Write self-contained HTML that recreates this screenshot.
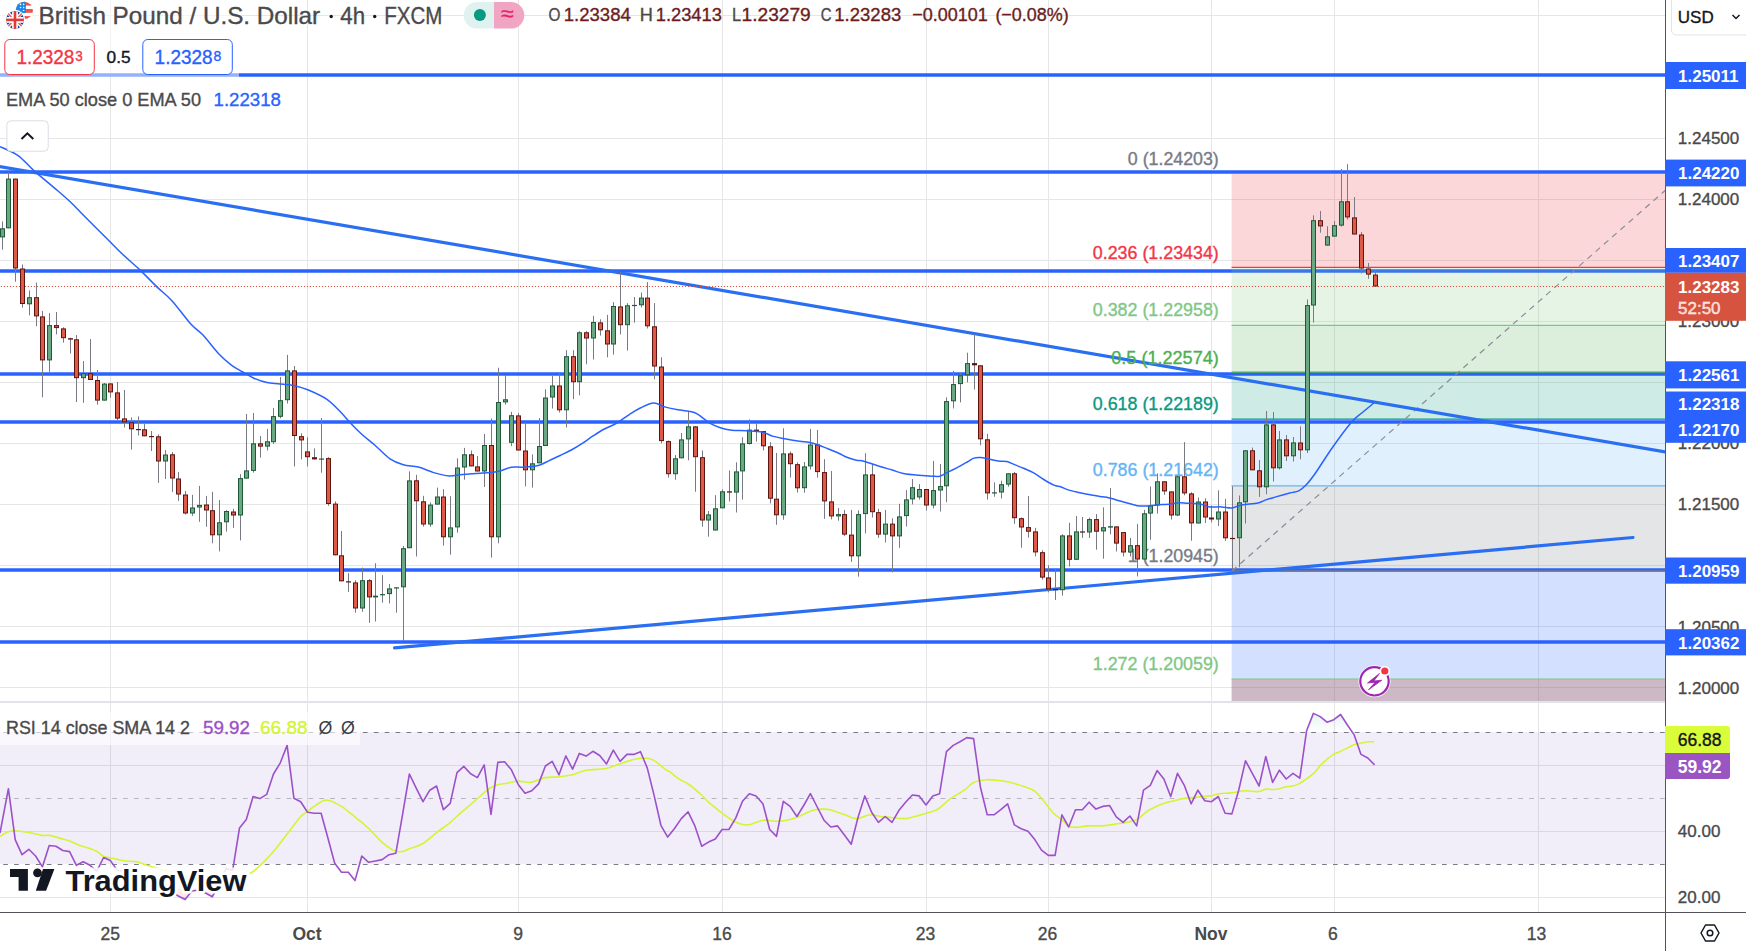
<!DOCTYPE html><html><head><meta charset="utf-8"><title>GBPUSD chart</title><style>html,body{margin:0;padding:0;background:#fff;overflow:hidden;width:1746px;height:951px}svg{display:block;font-family:"Liberation Sans",sans-serif}</style></head><body>
<svg width="1746" height="951" viewBox="0 0 1746 951">
<rect width="1746" height="951" fill="#ffffff"/>
<defs><clipPath id="mp"><rect x="0" y="0" width="1665" height="701"/></clipPath><clipPath id="rp"><rect x="0" y="703" width="1665" height="209"/></clipPath><clipPath id="below30"><rect x="0" y="864.5" width="1665" height="48"/></clipPath><clipPath id="above70"><rect x="0" y="703" width="1665" height="29"/></clipPath><linearGradient id="pk" gradientUnits="userSpaceOnUse" x1="0" y1="864" x2="0" y2="902"><stop offset="0" stop-color="#f23645" stop-opacity="0.0"/><stop offset="1" stop-color="#f23645" stop-opacity="0.14"/></linearGradient><linearGradient id="gk" gradientUnits="userSpaceOnUse" x1="0" y1="712" x2="0" y2="732"><stop offset="0" stop-color="#089981" stop-opacity="0.12"/><stop offset="1" stop-color="#089981" stop-opacity="0.0"/></linearGradient></defs>
<line x1="110.5" y1="0" x2="110.5" y2="912" stroke="#e6e6e6" stroke-width="1"/>
<line x1="307.5" y1="0" x2="307.5" y2="912" stroke="#e6e6e6" stroke-width="1"/>
<line x1="518.5" y1="0" x2="518.5" y2="912" stroke="#e6e6e6" stroke-width="1"/>
<line x1="722.5" y1="0" x2="722.5" y2="912" stroke="#e6e6e6" stroke-width="1"/>
<line x1="926.5" y1="0" x2="926.5" y2="912" stroke="#e6e6e6" stroke-width="1"/>
<line x1="1048.5" y1="0" x2="1048.5" y2="912" stroke="#e6e6e6" stroke-width="1"/>
<line x1="1211.5" y1="0" x2="1211.5" y2="912" stroke="#e6e6e6" stroke-width="1"/>
<line x1="1334.5" y1="0" x2="1334.5" y2="912" stroke="#e6e6e6" stroke-width="1"/>
<line x1="1538.5" y1="0" x2="1538.5" y2="912" stroke="#e6e6e6" stroke-width="1"/>
<line x1="0" y1="15.5" x2="1665" y2="15.5" stroke="#e6e6e6" stroke-width="1"/>
<line x1="0" y1="138.5" x2="1665" y2="138.5" stroke="#e6e6e6" stroke-width="1"/>
<line x1="0" y1="199.5" x2="1665" y2="199.5" stroke="#e6e6e6" stroke-width="1"/>
<line x1="0" y1="260.5" x2="1665" y2="260.5" stroke="#e6e6e6" stroke-width="1"/>
<line x1="0" y1="321.5" x2="1665" y2="321.5" stroke="#e6e6e6" stroke-width="1"/>
<line x1="0" y1="382.5" x2="1665" y2="382.5" stroke="#e6e6e6" stroke-width="1"/>
<line x1="0" y1="443.5" x2="1665" y2="443.5" stroke="#e6e6e6" stroke-width="1"/>
<line x1="0" y1="504.5" x2="1665" y2="504.5" stroke="#e6e6e6" stroke-width="1"/>
<line x1="0" y1="565.5" x2="1665" y2="565.5" stroke="#e6e6e6" stroke-width="1"/>
<line x1="0" y1="626.5" x2="1665" y2="626.5" stroke="#e6e6e6" stroke-width="1"/>
<line x1="0" y1="687.5" x2="1665" y2="687.5" stroke="#e6e6e6" stroke-width="1"/>
<line x1="0" y1="765.5" x2="1665" y2="765.5" stroke="#e6e6e6" stroke-width="1"/>
<line x1="0" y1="831.5" x2="1665" y2="831.5" stroke="#e6e6e6" stroke-width="1"/>
<line x1="0" y1="897.5" x2="1665" y2="897.5" stroke="#e6e6e6" stroke-width="1"/>
<g clip-path="url(#mp)">
<line x1="0" y1="271" x2="1665" y2="271" stroke="#2962ff" stroke-width="3.4"/>
<rect x="1231.6" y="173.50" width="433.4" height="93.79" fill="#f23645" fill-opacity="0.2"/>
<rect x="1231.6" y="267.29" width="433.4" height="58.02" fill="#81c784" fill-opacity="0.2"/>
<rect x="1231.6" y="325.31" width="433.4" height="46.89" fill="#4caf50" fill-opacity="0.2"/>
<rect x="1231.6" y="372.20" width="433.4" height="46.89" fill="#089981" fill-opacity="0.2"/>
<rect x="1231.6" y="419.09" width="433.4" height="66.76" fill="#64b5f6" fill-opacity="0.2"/>
<rect x="1231.6" y="485.86" width="433.4" height="85.04" fill="#787b86" fill-opacity="0.2"/>
<rect x="1231.6" y="570.90" width="433.4" height="108.09" fill="#2962ff" fill-opacity="0.2"/>
<rect x="1231.6" y="678.99" width="433.4" height="40" fill="#825070" fill-opacity="0.4"/>
<line x1="0" y1="75" x2="1665" y2="75" stroke="#2962ff" stroke-width="3.4"/>
<line x1="0" y1="172" x2="1665" y2="172" stroke="#2962ff" stroke-width="3.4"/>
<line x1="0" y1="374" x2="1665" y2="374" stroke="#2962ff" stroke-width="3.4"/>
<line x1="0" y1="422" x2="1665" y2="422" stroke="#2962ff" stroke-width="3.4"/>
<line x1="0" y1="570" x2="1665" y2="570" stroke="#2962ff" stroke-width="3.4"/>
<line x1="0" y1="642" x2="1665" y2="642" stroke="#2962ff" stroke-width="3.4"/>
<line x1="1231.6" y1="267.29" x2="1665" y2="267.29" stroke="#f23645" stroke-width="1.2"/>
<line x1="1231.6" y1="325.31" x2="1665" y2="325.31" stroke="#81c784" stroke-width="1.2"/>
<line x1="1231.6" y1="372.20" x2="1665" y2="372.20" stroke="#4caf50" stroke-width="1.2"/>
<line x1="1231.6" y1="419.09" x2="1665" y2="419.09" stroke="#089981" stroke-width="1.2"/>
<line x1="1231.6" y1="485.86" x2="1665" y2="485.86" stroke="#64b5f6" stroke-width="1.2"/>
<line x1="1231.6" y1="570.90" x2="1665" y2="570.90" stroke="#787b86" stroke-width="1.2"/>
<line x1="1231.6" y1="678.99" x2="1665" y2="678.99" stroke="#81c784" stroke-width="1.2"/>
<line x1="1232" y1="571" x2="1668" y2="188" stroke="#8a8d96" stroke-width="1.2" stroke-dasharray="6,5"/>
<line x1="-2" y1="166.3" x2="1666" y2="452" stroke="#2a6ef2" stroke-width="3.2"/>
<line x1="394.5" y1="647.9" x2="1633" y2="537.5" stroke="#2a6ef2" stroke-width="3.2" stroke-linecap="round"/>
<line x1="0" y1="286.5" x2="1665" y2="286.5" stroke="#d9503f" stroke-width="1.1" stroke-dasharray="1.1,1.9" stroke-dashoffset="-0.9"/>
<text x="1127.8" y="165.2" font-size="17.8" fill="#787b86" textLength="91" lengthAdjust="spacingAndGlyphs" stroke="#787b86" stroke-width="0.35">0 (1.24203)</text>
<text x="1092.8" y="259.4" font-size="17.8" fill="#f23645" textLength="126" lengthAdjust="spacingAndGlyphs" stroke="#f23645" stroke-width="0.35">0.236 (1.23434)</text>
<text x="1092.8" y="316.2" font-size="17.8" fill="#81c784" textLength="126" lengthAdjust="spacingAndGlyphs" stroke="#81c784" stroke-width="0.35">0.382 (1.22958)</text>
<text x="1111.3" y="363.6" font-size="17.8" fill="#4caf50" textLength="107.5" lengthAdjust="spacingAndGlyphs" stroke="#4caf50" stroke-width="0.35">0.5 (1.22574)</text>
<text x="1092.8" y="409.9" font-size="17.8" fill="#089981" textLength="126" lengthAdjust="spacingAndGlyphs" stroke="#089981" stroke-width="0.35">0.618 (1.22189)</text>
<text x="1092.8" y="476.0" font-size="17.8" fill="#64b5f6" textLength="126" lengthAdjust="spacingAndGlyphs" stroke="#64b5f6" stroke-width="0.35">0.786 (1.21642)</text>
<text x="1127.8" y="562.0" font-size="17.8" fill="#787b86" textLength="91" lengthAdjust="spacingAndGlyphs" stroke="#787b86" stroke-width="0.35">1 (1.20945)</text>
<text x="1092.8" y="670.0" font-size="17.8" fill="#81c784" textLength="126" lengthAdjust="spacingAndGlyphs" stroke="#81c784" stroke-width="0.35">1.272 (1.20059)</text>
<rect x="2" y="221.5" width="1" height="28.2" fill="#787b86"/>
<rect x="0.5" y="228.8" width="4" height="8.1" fill="#6aa884" stroke="#1e5a37" stroke-width="1"/>
<rect x="8" y="172.3" width="1" height="56.0" fill="#787b86"/>
<rect x="6.5" y="179.1" width="4" height="48.7" fill="#6aa884" stroke="#1e5a37" stroke-width="1"/>
<rect x="15" y="178.6" width="1" height="103.1" fill="#787b86"/>
<rect x="13.5" y="179.1" width="4" height="88.9" fill="#de5a48" stroke="#5e1510" stroke-width="1"/>
<rect x="22" y="264.4" width="1" height="43.2" fill="#787b86"/>
<rect x="20.5" y="269.0" width="4" height="34.5" fill="#de5a48" stroke="#5e1510" stroke-width="1"/>
<rect x="29" y="290.4" width="1" height="24.9" fill="#787b86"/>
<rect x="27.5" y="297.7" width="4" height="6.1" fill="#6aa884" stroke="#1e5a37" stroke-width="1"/>
<rect x="36" y="282.5" width="1" height="43.7" fill="#787b86"/>
<rect x="34.5" y="297.7" width="4" height="18.2" fill="#de5a48" stroke="#5e1510" stroke-width="1"/>
<rect x="42" y="310.9" width="1" height="86.4" fill="#787b86"/>
<rect x="40.5" y="316.9" width="4" height="43.0" fill="#de5a48" stroke="#5e1510" stroke-width="1"/>
<rect x="49" y="313.1" width="1" height="58.8" fill="#787b86"/>
<rect x="47.5" y="325.6" width="4" height="34.3" fill="#6aa884" stroke="#1e5a37" stroke-width="1"/>
<rect x="56" y="312.0" width="1" height="22.4" fill="#787b86"/>
<rect x="54.5" y="325.6" width="4" height="2.0" fill="#de5a48" stroke="#5e1510" stroke-width="1"/>
<rect x="63" y="327.3" width="1" height="15.3" fill="#787b86"/>
<rect x="61.5" y="328.9" width="4" height="8.8" fill="#de5a48" stroke="#5e1510" stroke-width="1"/>
<rect x="70" y="337.7" width="1" height="15.9" fill="#787b86"/>
<rect x="68" y="338.2" width="5" height="1.4" fill="#5e1510"/>
<rect x="76" y="335.0" width="1" height="67.0" fill="#787b86"/>
<rect x="74.5" y="339.8" width="4" height="37.9" fill="#de5a48" stroke="#5e1510" stroke-width="1"/>
<rect x="83" y="361.0" width="1" height="41.8" fill="#787b86"/>
<rect x="81.5" y="373.7" width="4" height="4.0" fill="#6aa884" stroke="#1e5a37" stroke-width="1"/>
<rect x="90" y="339.0" width="1" height="41.0" fill="#787b86"/>
<rect x="88.5" y="373.7" width="4" height="5.8" fill="#de5a48" stroke="#5e1510" stroke-width="1"/>
<rect x="97" y="370.0" width="1" height="34.7" fill="#787b86"/>
<rect x="95.5" y="380.5" width="4" height="19.6" fill="#de5a48" stroke="#5e1510" stroke-width="1"/>
<rect x="104" y="383.0" width="1" height="17.6" fill="#787b86"/>
<rect x="102.5" y="384.1" width="4" height="16.0" fill="#6aa884" stroke="#1e5a37" stroke-width="1"/>
<rect x="110" y="383.4" width="1" height="14.2" fill="#787b86"/>
<rect x="108.5" y="383.9" width="4" height="8.0" fill="#de5a48" stroke="#5e1510" stroke-width="1"/>
<rect x="117" y="382.0" width="1" height="38.0" fill="#787b86"/>
<rect x="115.5" y="392.9" width="4" height="25.2" fill="#de5a48" stroke="#5e1510" stroke-width="1"/>
<rect x="124" y="390.0" width="1" height="37.5" fill="#787b86"/>
<rect x="122.5" y="418.9" width="4" height="2.9" fill="#de5a48" stroke="#5e1510" stroke-width="1"/>
<rect x="131" y="417.4" width="1" height="32.1" fill="#787b86"/>
<rect x="129.5" y="422.8" width="4" height="6.0" fill="#de5a48" stroke="#5e1510" stroke-width="1"/>
<rect x="138" y="416.4" width="1" height="19.1" fill="#787b86"/>
<rect x="136" y="429.0" width="5" height="1.2" fill="#5e1510"/>
<rect x="144" y="424.0" width="1" height="12.3" fill="#787b86"/>
<rect x="142.5" y="429.8" width="4" height="6.0" fill="#de5a48" stroke="#5e1510" stroke-width="1"/>
<rect x="151" y="431.0" width="1" height="20.0" fill="#787b86"/>
<rect x="149" y="436.0" width="5" height="1.2" fill="#5e1510"/>
<rect x="158" y="434.3" width="1" height="48.6" fill="#787b86"/>
<rect x="156.5" y="436.8" width="4" height="24.2" fill="#de5a48" stroke="#5e1510" stroke-width="1"/>
<rect x="165" y="450.0" width="1" height="28.9" fill="#787b86"/>
<rect x="163.5" y="455.0" width="4" height="6.0" fill="#6aa884" stroke="#1e5a37" stroke-width="1"/>
<rect x="172" y="452.0" width="1" height="39.9" fill="#787b86"/>
<rect x="170.5" y="454.8" width="4" height="23.2" fill="#de5a48" stroke="#5e1510" stroke-width="1"/>
<rect x="178" y="471.9" width="1" height="29.0" fill="#787b86"/>
<rect x="176.5" y="479.0" width="4" height="15.0" fill="#de5a48" stroke="#5e1510" stroke-width="1"/>
<rect x="185" y="490.9" width="1" height="23.6" fill="#787b86"/>
<rect x="183.5" y="495.0" width="4" height="18.0" fill="#de5a48" stroke="#5e1510" stroke-width="1"/>
<rect x="192" y="494.9" width="1" height="21.0" fill="#787b86"/>
<rect x="190.5" y="508.0" width="4" height="5.0" fill="#6aa884" stroke="#1e5a37" stroke-width="1"/>
<rect x="199" y="485.9" width="1" height="35.9" fill="#787b86"/>
<rect x="197.5" y="505.4" width="4" height="1.6" fill="#6aa884" stroke="#1e5a37" stroke-width="1"/>
<rect x="206" y="495.9" width="1" height="30.9" fill="#787b86"/>
<rect x="204.5" y="505.0" width="4" height="5.0" fill="#de5a48" stroke="#5e1510" stroke-width="1"/>
<rect x="212" y="491.8" width="1" height="51.5" fill="#787b86"/>
<rect x="210.5" y="510.7" width="4" height="24.1" fill="#de5a48" stroke="#5e1510" stroke-width="1"/>
<rect x="219" y="500.0" width="1" height="51.4" fill="#787b86"/>
<rect x="217.5" y="522.8" width="4" height="12.0" fill="#6aa884" stroke="#1e5a37" stroke-width="1"/>
<rect x="226" y="510.2" width="1" height="21.4" fill="#787b86"/>
<rect x="224.5" y="511.5" width="4" height="10.3" fill="#6aa884" stroke="#1e5a37" stroke-width="1"/>
<rect x="233" y="508.8" width="1" height="19.0" fill="#787b86"/>
<rect x="231.5" y="512.0" width="4" height="3.0" fill="#de5a48" stroke="#5e1510" stroke-width="1"/>
<rect x="240" y="474.2" width="1" height="66.2" fill="#787b86"/>
<rect x="238.5" y="478.6" width="4" height="36.4" fill="#6aa884" stroke="#1e5a37" stroke-width="1"/>
<rect x="246" y="413.9" width="1" height="64.7" fill="#787b86"/>
<rect x="244.5" y="470.9" width="4" height="7.2" fill="#6aa884" stroke="#1e5a37" stroke-width="1"/>
<rect x="253" y="413.0" width="1" height="59.6" fill="#787b86"/>
<rect x="251.5" y="443.8" width="4" height="26.6" fill="#6aa884" stroke="#1e5a37" stroke-width="1"/>
<rect x="260" y="436.0" width="1" height="21.6" fill="#787b86"/>
<rect x="258.5" y="443.8" width="4" height="2.3" fill="#de5a48" stroke="#5e1510" stroke-width="1"/>
<rect x="267" y="428.9" width="1" height="21.6" fill="#787b86"/>
<rect x="265.5" y="441.8" width="4" height="4.3" fill="#6aa884" stroke="#1e5a37" stroke-width="1"/>
<rect x="273" y="407.9" width="1" height="36.0" fill="#787b86"/>
<rect x="271.5" y="416.6" width="4" height="25.1" fill="#6aa884" stroke="#1e5a37" stroke-width="1"/>
<rect x="280" y="377.0" width="1" height="41.3" fill="#787b86"/>
<rect x="278.5" y="400.7" width="4" height="15.6" fill="#6aa884" stroke="#1e5a37" stroke-width="1"/>
<rect x="287" y="354.9" width="1" height="48.6" fill="#787b86"/>
<rect x="285.5" y="370.9" width="4" height="28.8" fill="#6aa884" stroke="#1e5a37" stroke-width="1"/>
<rect x="294" y="366.0" width="1" height="100.4" fill="#787b86"/>
<rect x="292.5" y="370.9" width="4" height="64.6" fill="#de5a48" stroke="#5e1510" stroke-width="1"/>
<rect x="301" y="433.3" width="1" height="26.1" fill="#787b86"/>
<rect x="299.5" y="436.7" width="4" height="3.2" fill="#de5a48" stroke="#5e1510" stroke-width="1"/>
<rect x="307" y="437.3" width="1" height="29.1" fill="#787b86"/>
<rect x="305.5" y="451.9" width="4" height="4.8" fill="#de5a48" stroke="#5e1510" stroke-width="1"/>
<rect x="314" y="448.4" width="1" height="11.0" fill="#787b86"/>
<rect x="312" y="457.2" width="5" height="2.2" fill="#5e1510"/>
<rect x="321" y="418.0" width="1" height="54.7" fill="#787b86"/>
<rect x="319" y="458.5" width="5" height="1.2" fill="#1e5a37"/>
<rect x="328" y="457.2" width="1" height="48.6" fill="#787b86"/>
<rect x="326.5" y="458.6" width="4" height="44.9" fill="#de5a48" stroke="#5e1510" stroke-width="1"/>
<rect x="335" y="501.4" width="1" height="53.9" fill="#787b86"/>
<rect x="333.5" y="504.1" width="4" height="50.7" fill="#de5a48" stroke="#5e1510" stroke-width="1"/>
<rect x="341" y="531.0" width="1" height="50.3" fill="#787b86"/>
<rect x="339.5" y="555.8" width="4" height="25.0" fill="#de5a48" stroke="#5e1510" stroke-width="1"/>
<rect x="348" y="573.1" width="1" height="18.8" fill="#787b86"/>
<rect x="346" y="581.3" width="5" height="1.2" fill="#5e1510"/>
<rect x="355" y="580.2" width="1" height="32.5" fill="#787b86"/>
<rect x="353.5" y="582.9" width="4" height="25.1" fill="#de5a48" stroke="#5e1510" stroke-width="1"/>
<rect x="362" y="567.6" width="1" height="44.2" fill="#787b86"/>
<rect x="360.5" y="580.7" width="4" height="27.3" fill="#6aa884" stroke="#1e5a37" stroke-width="1"/>
<rect x="369" y="579.1" width="1" height="43.7" fill="#787b86"/>
<rect x="367.5" y="580.7" width="4" height="16.2" fill="#de5a48" stroke="#5e1510" stroke-width="1"/>
<rect x="375" y="563.2" width="1" height="58.3" fill="#787b86"/>
<rect x="373" y="595.7" width="5" height="1.7" fill="#1e5a37"/>
<rect x="382" y="575.1" width="1" height="27.6" fill="#787b86"/>
<rect x="380" y="594.1" width="5" height="1.2" fill="#1e5a37"/>
<rect x="389" y="584.0" width="1" height="19.4" fill="#787b86"/>
<rect x="387.5" y="588.9" width="4" height="4.7" fill="#6aa884" stroke="#1e5a37" stroke-width="1"/>
<rect x="396" y="587.3" width="1" height="25.4" fill="#787b86"/>
<rect x="394" y="587.3" width="5" height="1.2" fill="#1e5a37"/>
<rect x="403" y="546.0" width="1" height="94.9" fill="#787b86"/>
<rect x="401.5" y="548.7" width="4" height="38.1" fill="#6aa884" stroke="#1e5a37" stroke-width="1"/>
<rect x="409" y="471.4" width="1" height="76.8" fill="#787b86"/>
<rect x="407.5" y="480.9" width="4" height="66.8" fill="#6aa884" stroke="#1e5a37" stroke-width="1"/>
<rect x="416" y="474.8" width="1" height="81.7" fill="#787b86"/>
<rect x="414.5" y="480.8" width="4" height="20.0" fill="#de5a48" stroke="#5e1510" stroke-width="1"/>
<rect x="423" y="495.8" width="1" height="30.9" fill="#787b86"/>
<rect x="421.5" y="501.8" width="4" height="22.2" fill="#de5a48" stroke="#5e1510" stroke-width="1"/>
<rect x="430" y="502.4" width="1" height="24.3" fill="#787b86"/>
<rect x="428.5" y="505.1" width="4" height="18.9" fill="#6aa884" stroke="#1e5a37" stroke-width="1"/>
<rect x="437" y="487.6" width="1" height="17.0" fill="#787b86"/>
<rect x="435.5" y="497.0" width="4" height="7.1" fill="#6aa884" stroke="#1e5a37" stroke-width="1"/>
<rect x="443" y="489.2" width="1" height="56.3" fill="#787b86"/>
<rect x="441.5" y="497.0" width="4" height="39.8" fill="#de5a48" stroke="#5e1510" stroke-width="1"/>
<rect x="450" y="496.2" width="1" height="58.5" fill="#787b86"/>
<rect x="448.5" y="527.9" width="4" height="8.9" fill="#6aa884" stroke="#1e5a37" stroke-width="1"/>
<rect x="457" y="458.3" width="1" height="74.4" fill="#787b86"/>
<rect x="455.5" y="468.0" width="4" height="58.9" fill="#6aa884" stroke="#1e5a37" stroke-width="1"/>
<rect x="464" y="447.9" width="1" height="31.8" fill="#787b86"/>
<rect x="462.5" y="454.8" width="4" height="12.2" fill="#6aa884" stroke="#1e5a37" stroke-width="1"/>
<rect x="471" y="450.5" width="1" height="15.9" fill="#787b86"/>
<rect x="469.5" y="454.8" width="4" height="11.1" fill="#de5a48" stroke="#5e1510" stroke-width="1"/>
<rect x="477" y="456.0" width="1" height="15.5" fill="#787b86"/>
<rect x="475.5" y="466.9" width="4" height="4.1" fill="#de5a48" stroke="#5e1510" stroke-width="1"/>
<rect x="484" y="434.0" width="1" height="53.0" fill="#787b86"/>
<rect x="482.5" y="445.5" width="4" height="25.5" fill="#6aa884" stroke="#1e5a37" stroke-width="1"/>
<rect x="491" y="418.5" width="1" height="139.1" fill="#787b86"/>
<rect x="489.5" y="445.5" width="4" height="91.3" fill="#de5a48" stroke="#5e1510" stroke-width="1"/>
<rect x="498" y="367.7" width="1" height="175.6" fill="#787b86"/>
<rect x="496.5" y="402.5" width="4" height="134.3" fill="#6aa884" stroke="#1e5a37" stroke-width="1"/>
<rect x="505" y="375.0" width="1" height="29.6" fill="#787b86"/>
<rect x="503.5" y="399.8" width="4" height="2.1" fill="#6aa884" stroke="#1e5a37" stroke-width="1"/>
<rect x="511" y="411.9" width="1" height="34.2" fill="#787b86"/>
<rect x="509.5" y="415.7" width="4" height="26.6" fill="#6aa884" stroke="#1e5a37" stroke-width="1"/>
<rect x="518" y="413.0" width="1" height="37.5" fill="#787b86"/>
<rect x="516.5" y="415.9" width="4" height="34.1" fill="#de5a48" stroke="#5e1510" stroke-width="1"/>
<rect x="525" y="422.4" width="1" height="64.0" fill="#787b86"/>
<rect x="523.5" y="451.0" width="4" height="18.8" fill="#de5a48" stroke="#5e1510" stroke-width="1"/>
<rect x="532" y="454.4" width="1" height="33.2" fill="#787b86"/>
<rect x="530.5" y="463.8" width="4" height="6.0" fill="#6aa884" stroke="#1e5a37" stroke-width="1"/>
<rect x="539" y="418.0" width="1" height="45.3" fill="#787b86"/>
<rect x="537.5" y="446.5" width="4" height="16.3" fill="#6aa884" stroke="#1e5a37" stroke-width="1"/>
<rect x="545" y="389.3" width="1" height="56.7" fill="#787b86"/>
<rect x="543.5" y="398.0" width="4" height="47.5" fill="#6aa884" stroke="#1e5a37" stroke-width="1"/>
<rect x="552" y="376.0" width="1" height="32.5" fill="#787b86"/>
<rect x="550.5" y="386.0" width="4" height="11.0" fill="#6aa884" stroke="#1e5a37" stroke-width="1"/>
<rect x="559" y="373.2" width="1" height="39.3" fill="#787b86"/>
<rect x="557.5" y="386.0" width="4" height="23.8" fill="#de5a48" stroke="#5e1510" stroke-width="1"/>
<rect x="566" y="350.2" width="1" height="77.3" fill="#787b86"/>
<rect x="564.5" y="356.7" width="4" height="53.1" fill="#6aa884" stroke="#1e5a37" stroke-width="1"/>
<rect x="573" y="350.2" width="1" height="49.0" fill="#787b86"/>
<rect x="571.5" y="356.7" width="4" height="25.0" fill="#de5a48" stroke="#5e1510" stroke-width="1"/>
<rect x="579" y="331.2" width="1" height="64.1" fill="#787b86"/>
<rect x="577.5" y="332.8" width="4" height="48.9" fill="#6aa884" stroke="#1e5a37" stroke-width="1"/>
<rect x="586" y="331.2" width="1" height="33.1" fill="#787b86"/>
<rect x="584.5" y="332.8" width="4" height="5.2" fill="#de5a48" stroke="#5e1510" stroke-width="1"/>
<rect x="593" y="315.8" width="1" height="43.7" fill="#787b86"/>
<rect x="591.5" y="322.5" width="4" height="15.5" fill="#6aa884" stroke="#1e5a37" stroke-width="1"/>
<rect x="600" y="319.3" width="1" height="16.3" fill="#787b86"/>
<rect x="598.5" y="322.9" width="4" height="6.9" fill="#de5a48" stroke="#5e1510" stroke-width="1"/>
<rect x="607" y="314.9" width="1" height="42.4" fill="#787b86"/>
<rect x="605.5" y="330.8" width="4" height="13.2" fill="#de5a48" stroke="#5e1510" stroke-width="1"/>
<rect x="613" y="302.1" width="1" height="52.5" fill="#787b86"/>
<rect x="611.5" y="306.5" width="4" height="37.5" fill="#6aa884" stroke="#1e5a37" stroke-width="1"/>
<rect x="620" y="272.2" width="1" height="62.3" fill="#787b86"/>
<rect x="618.5" y="306.9" width="4" height="17.8" fill="#de5a48" stroke="#5e1510" stroke-width="1"/>
<rect x="627" y="303.1" width="1" height="47.5" fill="#787b86"/>
<rect x="625.5" y="305.8" width="4" height="18.9" fill="#6aa884" stroke="#1e5a37" stroke-width="1"/>
<rect x="634" y="297.0" width="1" height="25.6" fill="#787b86"/>
<rect x="632" y="304.9" width="5" height="1.2" fill="#1e5a37"/>
<rect x="641" y="292.5" width="1" height="15.0" fill="#787b86"/>
<rect x="639.5" y="298.1" width="4" height="6.7" fill="#6aa884" stroke="#1e5a37" stroke-width="1"/>
<rect x="647" y="282.1" width="1" height="46.4" fill="#787b86"/>
<rect x="645.5" y="298.1" width="4" height="27.7" fill="#de5a48" stroke="#5e1510" stroke-width="1"/>
<rect x="654" y="303.1" width="1" height="76.2" fill="#787b86"/>
<rect x="652.5" y="326.8" width="4" height="39.2" fill="#de5a48" stroke="#5e1510" stroke-width="1"/>
<rect x="661" y="357.2" width="1" height="86.1" fill="#787b86"/>
<rect x="659.5" y="367.0" width="4" height="73.6" fill="#de5a48" stroke="#5e1510" stroke-width="1"/>
<rect x="668" y="440.5" width="1" height="37.0" fill="#787b86"/>
<rect x="666.5" y="441.6" width="4" height="32.1" fill="#de5a48" stroke="#5e1510" stroke-width="1"/>
<rect x="675" y="455.0" width="1" height="24.8" fill="#787b86"/>
<rect x="673.5" y="458.8" width="4" height="14.9" fill="#6aa884" stroke="#1e5a37" stroke-width="1"/>
<rect x="681" y="433.0" width="1" height="25.3" fill="#787b86"/>
<rect x="679.5" y="439.9" width="4" height="17.9" fill="#6aa884" stroke="#1e5a37" stroke-width="1"/>
<rect x="688" y="412.0" width="1" height="48.3" fill="#787b86"/>
<rect x="686.5" y="426.8" width="4" height="12.1" fill="#6aa884" stroke="#1e5a37" stroke-width="1"/>
<rect x="695" y="426.0" width="1" height="65.7" fill="#787b86"/>
<rect x="693.5" y="426.9" width="4" height="29.8" fill="#de5a48" stroke="#5e1510" stroke-width="1"/>
<rect x="702" y="450.4" width="1" height="76.3" fill="#787b86"/>
<rect x="700.5" y="457.7" width="4" height="62.3" fill="#de5a48" stroke="#5e1510" stroke-width="1"/>
<rect x="708" y="511.0" width="1" height="25.7" fill="#787b86"/>
<rect x="706.5" y="514.9" width="4" height="5.1" fill="#6aa884" stroke="#1e5a37" stroke-width="1"/>
<rect x="715" y="495.1" width="1" height="35.4" fill="#787b86"/>
<rect x="713.5" y="508.8" width="4" height="21.2" fill="#6aa884" stroke="#1e5a37" stroke-width="1"/>
<rect x="722" y="489.4" width="1" height="18.9" fill="#787b86"/>
<rect x="720.5" y="491.8" width="4" height="16.0" fill="#6aa884" stroke="#1e5a37" stroke-width="1"/>
<rect x="729" y="470.5" width="1" height="31.0" fill="#787b86"/>
<rect x="727" y="491.3" width="5" height="1.3" fill="#5e1510"/>
<rect x="736" y="462.3" width="1" height="50.2" fill="#787b86"/>
<rect x="734.5" y="471.9" width="4" height="20.2" fill="#6aa884" stroke="#1e5a37" stroke-width="1"/>
<rect x="742" y="437.2" width="1" height="62.4" fill="#787b86"/>
<rect x="740.5" y="443.9" width="4" height="27.0" fill="#6aa884" stroke="#1e5a37" stroke-width="1"/>
<rect x="749" y="419.4" width="1" height="25.0" fill="#787b86"/>
<rect x="747.5" y="430.1" width="4" height="13.4" fill="#6aa884" stroke="#1e5a37" stroke-width="1"/>
<rect x="756" y="423.2" width="1" height="18.3" fill="#787b86"/>
<rect x="754" y="429.6" width="5" height="1.5" fill="#5e1510"/>
<rect x="763" y="431.0" width="1" height="19.4" fill="#787b86"/>
<rect x="761.5" y="431.6" width="4" height="14.2" fill="#de5a48" stroke="#5e1510" stroke-width="1"/>
<rect x="770" y="442.1" width="1" height="61.3" fill="#787b86"/>
<rect x="768.5" y="446.8" width="4" height="51.4" fill="#de5a48" stroke="#5e1510" stroke-width="1"/>
<rect x="776" y="452.9" width="1" height="71.9" fill="#787b86"/>
<rect x="774.5" y="499.2" width="4" height="15.6" fill="#de5a48" stroke="#5e1510" stroke-width="1"/>
<rect x="783" y="428.3" width="1" height="91.4" fill="#787b86"/>
<rect x="781.5" y="453.9" width="4" height="60.9" fill="#6aa884" stroke="#1e5a37" stroke-width="1"/>
<rect x="790" y="451.5" width="1" height="26.0" fill="#787b86"/>
<rect x="788.5" y="453.9" width="4" height="9.8" fill="#de5a48" stroke="#5e1510" stroke-width="1"/>
<rect x="797" y="462.3" width="1" height="30.3" fill="#787b86"/>
<rect x="795.5" y="464.7" width="4" height="23.1" fill="#de5a48" stroke="#5e1510" stroke-width="1"/>
<rect x="804" y="462.0" width="1" height="30.7" fill="#787b86"/>
<rect x="802.5" y="466.9" width="4" height="20.8" fill="#6aa884" stroke="#1e5a37" stroke-width="1"/>
<rect x="810" y="428.9" width="1" height="40.7" fill="#787b86"/>
<rect x="808.5" y="445.0" width="4" height="20.9" fill="#6aa884" stroke="#1e5a37" stroke-width="1"/>
<rect x="817" y="429.9" width="1" height="47.7" fill="#787b86"/>
<rect x="815.5" y="445.0" width="4" height="26.6" fill="#de5a48" stroke="#5e1510" stroke-width="1"/>
<rect x="824" y="459.2" width="1" height="59.6" fill="#787b86"/>
<rect x="822.5" y="472.6" width="4" height="28.3" fill="#de5a48" stroke="#5e1510" stroke-width="1"/>
<rect x="831" y="471.0" width="1" height="48.4" fill="#787b86"/>
<rect x="829.5" y="501.9" width="4" height="14.0" fill="#de5a48" stroke="#5e1510" stroke-width="1"/>
<rect x="838" y="508.0" width="1" height="12.7" fill="#787b86"/>
<rect x="836.5" y="514.6" width="4" height="1.3" fill="#6aa884" stroke="#1e5a37" stroke-width="1"/>
<rect x="844" y="509.9" width="1" height="26.0" fill="#787b86"/>
<rect x="842.5" y="514.6" width="4" height="19.5" fill="#de5a48" stroke="#5e1510" stroke-width="1"/>
<rect x="851" y="509.9" width="1" height="51.9" fill="#787b86"/>
<rect x="849.5" y="535.1" width="4" height="20.7" fill="#de5a48" stroke="#5e1510" stroke-width="1"/>
<rect x="858" y="510.3" width="1" height="66.3" fill="#787b86"/>
<rect x="856.5" y="514.6" width="4" height="41.2" fill="#6aa884" stroke="#1e5a37" stroke-width="1"/>
<rect x="865" y="453.2" width="1" height="80.2" fill="#787b86"/>
<rect x="863.5" y="474.9" width="4" height="38.7" fill="#6aa884" stroke="#1e5a37" stroke-width="1"/>
<rect x="872" y="463.9" width="1" height="53.6" fill="#787b86"/>
<rect x="870.5" y="474.9" width="4" height="36.8" fill="#de5a48" stroke="#5e1510" stroke-width="1"/>
<rect x="878" y="508.8" width="1" height="29.0" fill="#787b86"/>
<rect x="876.5" y="512.7" width="4" height="21.4" fill="#de5a48" stroke="#5e1510" stroke-width="1"/>
<rect x="885" y="509.9" width="1" height="32.6" fill="#787b86"/>
<rect x="883.5" y="524.1" width="4" height="10.0" fill="#6aa884" stroke="#1e5a37" stroke-width="1"/>
<rect x="892" y="518.3" width="1" height="54.1" fill="#787b86"/>
<rect x="890.5" y="524.1" width="4" height="11.8" fill="#de5a48" stroke="#5e1510" stroke-width="1"/>
<rect x="899" y="503.7" width="1" height="44.1" fill="#787b86"/>
<rect x="897.5" y="516.9" width="4" height="19.0" fill="#6aa884" stroke="#1e5a37" stroke-width="1"/>
<rect x="906" y="490.1" width="1" height="36.4" fill="#787b86"/>
<rect x="904.5" y="499.9" width="4" height="15.7" fill="#6aa884" stroke="#1e5a37" stroke-width="1"/>
<rect x="912" y="479.0" width="1" height="25.4" fill="#787b86"/>
<rect x="910.5" y="487.7" width="4" height="11.2" fill="#6aa884" stroke="#1e5a37" stroke-width="1"/>
<rect x="919" y="484.1" width="1" height="15.5" fill="#787b86"/>
<rect x="917.5" y="489.5" width="4" height="7.4" fill="#6aa884" stroke="#1e5a37" stroke-width="1"/>
<rect x="926" y="489.0" width="1" height="21.6" fill="#787b86"/>
<rect x="924.5" y="489.5" width="4" height="15.5" fill="#de5a48" stroke="#5e1510" stroke-width="1"/>
<rect x="933" y="460.9" width="1" height="47.5" fill="#787b86"/>
<rect x="931.5" y="490.6" width="4" height="14.4" fill="#6aa884" stroke="#1e5a37" stroke-width="1"/>
<rect x="940" y="464.0" width="1" height="47.5" fill="#787b86"/>
<rect x="938.5" y="486.6" width="4" height="3.4" fill="#6aa884" stroke="#1e5a37" stroke-width="1"/>
<rect x="946" y="397.3" width="1" height="104.9" fill="#787b86"/>
<rect x="944.5" y="401.6" width="4" height="84.2" fill="#6aa884" stroke="#1e5a37" stroke-width="1"/>
<rect x="953" y="370.8" width="1" height="37.6" fill="#787b86"/>
<rect x="951.5" y="384.6" width="4" height="16.2" fill="#6aa884" stroke="#1e5a37" stroke-width="1"/>
<rect x="960" y="373.1" width="1" height="29.3" fill="#787b86"/>
<rect x="958.5" y="375.8" width="4" height="7.8" fill="#6aa884" stroke="#1e5a37" stroke-width="1"/>
<rect x="967" y="352.7" width="1" height="29.6" fill="#787b86"/>
<rect x="965.5" y="363.6" width="4" height="11.2" fill="#6aa884" stroke="#1e5a37" stroke-width="1"/>
<rect x="974" y="334.0" width="1" height="55.6" fill="#787b86"/>
<rect x="972" y="363.1" width="5" height="2.2" fill="#5e1510"/>
<rect x="980" y="365.3" width="1" height="80.0" fill="#787b86"/>
<rect x="978.5" y="365.8" width="4" height="73.0" fill="#de5a48" stroke="#5e1510" stroke-width="1"/>
<rect x="987" y="433.8" width="1" height="65.8" fill="#787b86"/>
<rect x="985.5" y="439.8" width="4" height="53.1" fill="#de5a48" stroke="#5e1510" stroke-width="1"/>
<rect x="994" y="482.4" width="1" height="14.3" fill="#787b86"/>
<rect x="992" y="492.3" width="5" height="1.2" fill="#1e5a37"/>
<rect x="1001" y="480.7" width="1" height="17.8" fill="#787b86"/>
<rect x="999.5" y="484.7" width="4" height="7.3" fill="#6aa884" stroke="#1e5a37" stroke-width="1"/>
<rect x="1008" y="473.3" width="1" height="13.5" fill="#787b86"/>
<rect x="1006.5" y="473.8" width="4" height="10.3" fill="#6aa884" stroke="#1e5a37" stroke-width="1"/>
<rect x="1014" y="472.0" width="1" height="51.8" fill="#787b86"/>
<rect x="1012.5" y="473.8" width="4" height="43.9" fill="#de5a48" stroke="#5e1510" stroke-width="1"/>
<rect x="1021" y="517.4" width="1" height="30.3" fill="#787b86"/>
<rect x="1019.5" y="518.7" width="4" height="8.3" fill="#de5a48" stroke="#5e1510" stroke-width="1"/>
<rect x="1028" y="496.0" width="1" height="41.6" fill="#787b86"/>
<rect x="1026.5" y="527.6" width="4" height="3.6" fill="#de5a48" stroke="#5e1510" stroke-width="1"/>
<rect x="1035" y="527.8" width="1" height="28.6" fill="#787b86"/>
<rect x="1033.5" y="531.9" width="4" height="20.0" fill="#de5a48" stroke="#5e1510" stroke-width="1"/>
<rect x="1042" y="550.2" width="1" height="29.4" fill="#787b86"/>
<rect x="1040.5" y="552.7" width="4" height="24.4" fill="#de5a48" stroke="#5e1510" stroke-width="1"/>
<rect x="1048" y="565.3" width="1" height="27.0" fill="#787b86"/>
<rect x="1046.5" y="577.9" width="4" height="11.0" fill="#de5a48" stroke="#5e1510" stroke-width="1"/>
<rect x="1055" y="569.2" width="1" height="30.8" fill="#787b86"/>
<rect x="1053" y="588.9" width="5" height="1.3" fill="#5e1510"/>
<rect x="1062" y="534.2" width="1" height="61.4" fill="#787b86"/>
<rect x="1060.5" y="535.9" width="4" height="53.8" fill="#6aa884" stroke="#1e5a37" stroke-width="1"/>
<rect x="1069" y="522.8" width="1" height="43.7" fill="#787b86"/>
<rect x="1067.5" y="535.9" width="4" height="23.4" fill="#de5a48" stroke="#5e1510" stroke-width="1"/>
<rect x="1076" y="516.0" width="1" height="43.8" fill="#787b86"/>
<rect x="1074.5" y="531.9" width="4" height="27.4" fill="#6aa884" stroke="#1e5a37" stroke-width="1"/>
<rect x="1082" y="517.0" width="1" height="20.9" fill="#787b86"/>
<rect x="1080" y="531.4" width="5" height="1.2" fill="#5e1510"/>
<rect x="1089" y="517.7" width="1" height="20.2" fill="#787b86"/>
<rect x="1087.5" y="519.6" width="4" height="12.4" fill="#6aa884" stroke="#1e5a37" stroke-width="1"/>
<rect x="1096" y="514.0" width="1" height="35.7" fill="#787b86"/>
<rect x="1094.5" y="519.6" width="4" height="11.6" fill="#de5a48" stroke="#5e1510" stroke-width="1"/>
<rect x="1103" y="507.4" width="1" height="51.3" fill="#787b86"/>
<rect x="1101.5" y="527.7" width="4" height="3.2" fill="#6aa884" stroke="#1e5a37" stroke-width="1"/>
<rect x="1110" y="488.0" width="1" height="46.3" fill="#787b86"/>
<rect x="1108" y="526.2" width="5" height="1.4" fill="#1e5a37"/>
<rect x="1116" y="526.4" width="1" height="25.1" fill="#787b86"/>
<rect x="1114.5" y="526.9" width="4" height="16.2" fill="#de5a48" stroke="#5e1510" stroke-width="1"/>
<rect x="1123" y="532.1" width="1" height="24.4" fill="#787b86"/>
<rect x="1121.5" y="532.6" width="4" height="19.4" fill="#de5a48" stroke="#5e1510" stroke-width="1"/>
<rect x="1130" y="538.0" width="1" height="18.5" fill="#787b86"/>
<rect x="1128.5" y="545.7" width="4" height="6.3" fill="#6aa884" stroke="#1e5a37" stroke-width="1"/>
<rect x="1137" y="523.9" width="1" height="52.5" fill="#787b86"/>
<rect x="1135.5" y="545.7" width="4" height="13.3" fill="#de5a48" stroke="#5e1510" stroke-width="1"/>
<rect x="1144" y="509.9" width="1" height="49.6" fill="#787b86"/>
<rect x="1142.5" y="513.8" width="4" height="45.2" fill="#6aa884" stroke="#1e5a37" stroke-width="1"/>
<rect x="1150" y="486.4" width="1" height="53.3" fill="#787b86"/>
<rect x="1148.5" y="505.9" width="4" height="7.2" fill="#6aa884" stroke="#1e5a37" stroke-width="1"/>
<rect x="1157" y="473.4" width="1" height="40.2" fill="#787b86"/>
<rect x="1155.5" y="481.8" width="4" height="23.1" fill="#6aa884" stroke="#1e5a37" stroke-width="1"/>
<rect x="1164" y="481.3" width="1" height="13.5" fill="#787b86"/>
<rect x="1162.5" y="481.8" width="4" height="9.1" fill="#de5a48" stroke="#5e1510" stroke-width="1"/>
<rect x="1171" y="491.4" width="1" height="28.1" fill="#787b86"/>
<rect x="1169.5" y="491.9" width="4" height="23.1" fill="#de5a48" stroke="#5e1510" stroke-width="1"/>
<rect x="1177" y="475.8" width="1" height="40.3" fill="#787b86"/>
<rect x="1175.5" y="476.8" width="4" height="38.2" fill="#6aa884" stroke="#1e5a37" stroke-width="1"/>
<rect x="1184" y="442.1" width="1" height="53.2" fill="#787b86"/>
<rect x="1182.5" y="476.8" width="4" height="16.1" fill="#de5a48" stroke="#5e1510" stroke-width="1"/>
<rect x="1191" y="492.2" width="1" height="48.5" fill="#787b86"/>
<rect x="1189.5" y="493.9" width="4" height="29.0" fill="#de5a48" stroke="#5e1510" stroke-width="1"/>
<rect x="1198" y="497.5" width="1" height="26.0" fill="#787b86"/>
<rect x="1196.5" y="502.0" width="4" height="21.0" fill="#6aa884" stroke="#1e5a37" stroke-width="1"/>
<rect x="1205" y="498.3" width="1" height="24.6" fill="#787b86"/>
<rect x="1203.5" y="502.0" width="4" height="15.0" fill="#de5a48" stroke="#5e1510" stroke-width="1"/>
<rect x="1211" y="505.5" width="1" height="16.8" fill="#787b86"/>
<rect x="1209" y="517.5" width="5" height="2.0" fill="#5e1510"/>
<rect x="1218" y="490.3" width="1" height="35.6" fill="#787b86"/>
<rect x="1216.5" y="512.0" width="4" height="7.0" fill="#6aa884" stroke="#1e5a37" stroke-width="1"/>
<rect x="1225" y="498.9" width="1" height="42.0" fill="#787b86"/>
<rect x="1223.5" y="512.0" width="4" height="25.8" fill="#de5a48" stroke="#5e1510" stroke-width="1"/>
<rect x="1232" y="486.3" width="1" height="84.5" fill="#787b86"/>
<rect x="1230" y="537.9" width="5" height="1.2" fill="#5e1510"/>
<rect x="1239" y="495.5" width="1" height="71.9" fill="#787b86"/>
<rect x="1237.5" y="502.8" width="4" height="35.0" fill="#6aa884" stroke="#1e5a37" stroke-width="1"/>
<rect x="1245" y="450.3" width="1" height="73.2" fill="#787b86"/>
<rect x="1243.5" y="450.8" width="4" height="51.0" fill="#6aa884" stroke="#1e5a37" stroke-width="1"/>
<rect x="1252" y="447.6" width="1" height="22.7" fill="#787b86"/>
<rect x="1250.5" y="450.8" width="4" height="19.0" fill="#de5a48" stroke="#5e1510" stroke-width="1"/>
<rect x="1259" y="460.0" width="1" height="36.9" fill="#787b86"/>
<rect x="1257.5" y="470.8" width="4" height="16.0" fill="#de5a48" stroke="#5e1510" stroke-width="1"/>
<rect x="1266" y="411.0" width="1" height="83.3" fill="#787b86"/>
<rect x="1264.5" y="424.9" width="4" height="61.9" fill="#6aa884" stroke="#1e5a37" stroke-width="1"/>
<rect x="1273" y="412.0" width="1" height="69.5" fill="#787b86"/>
<rect x="1271.5" y="424.9" width="4" height="42.9" fill="#de5a48" stroke="#5e1510" stroke-width="1"/>
<rect x="1279" y="431.0" width="1" height="38.5" fill="#787b86"/>
<rect x="1277.5" y="439.9" width="4" height="27.9" fill="#6aa884" stroke="#1e5a37" stroke-width="1"/>
<rect x="1286" y="435.0" width="1" height="26.0" fill="#787b86"/>
<rect x="1284.5" y="439.9" width="4" height="15.9" fill="#de5a48" stroke="#5e1510" stroke-width="1"/>
<rect x="1293" y="437.0" width="1" height="24.5" fill="#787b86"/>
<rect x="1291.5" y="442.9" width="4" height="12.9" fill="#6aa884" stroke="#1e5a37" stroke-width="1"/>
<rect x="1300" y="426.3" width="1" height="33.0" fill="#787b86"/>
<rect x="1298.5" y="443.0" width="4" height="6.8" fill="#de5a48" stroke="#5e1510" stroke-width="1"/>
<rect x="1307" y="299.4" width="1" height="153.6" fill="#787b86"/>
<rect x="1305.5" y="305.6" width="4" height="144.2" fill="#6aa884" stroke="#1e5a37" stroke-width="1"/>
<rect x="1313" y="215.3" width="1" height="107.2" fill="#787b86"/>
<rect x="1311.5" y="220.7" width="4" height="84.3" fill="#6aa884" stroke="#1e5a37" stroke-width="1"/>
<rect x="1320" y="211.0" width="1" height="21.7" fill="#787b86"/>
<rect x="1318.5" y="220.7" width="4" height="5.2" fill="#de5a48" stroke="#5e1510" stroke-width="1"/>
<rect x="1327" y="226.2" width="1" height="19.4" fill="#787b86"/>
<rect x="1325.5" y="236.8" width="4" height="8.3" fill="#6aa884" stroke="#1e5a37" stroke-width="1"/>
<rect x="1334" y="221.0" width="1" height="15.6" fill="#787b86"/>
<rect x="1332.5" y="225.7" width="4" height="10.4" fill="#6aa884" stroke="#1e5a37" stroke-width="1"/>
<rect x="1341" y="169.0" width="1" height="57.6" fill="#787b86"/>
<rect x="1339.5" y="201.8" width="4" height="23.3" fill="#6aa884" stroke="#1e5a37" stroke-width="1"/>
<rect x="1347" y="164.2" width="1" height="55.3" fill="#787b86"/>
<rect x="1345.5" y="201.8" width="4" height="15.1" fill="#de5a48" stroke="#5e1510" stroke-width="1"/>
<rect x="1354" y="197.0" width="1" height="37.5" fill="#787b86"/>
<rect x="1352.5" y="217.9" width="4" height="16.1" fill="#de5a48" stroke="#5e1510" stroke-width="1"/>
<rect x="1361" y="232.1" width="1" height="41.4" fill="#787b86"/>
<rect x="1359.5" y="235.0" width="4" height="33.0" fill="#de5a48" stroke="#5e1510" stroke-width="1"/>
<rect x="1368" y="263.0" width="1" height="15.8" fill="#787b86"/>
<rect x="1366.5" y="269.0" width="4" height="5.1" fill="#de5a48" stroke="#5e1510" stroke-width="1"/>
<rect x="1375" y="270.1" width="1" height="16.4" fill="#787b86"/>
<rect x="1373.5" y="275.1" width="4" height="10.9" fill="#de5a48" stroke="#5e1510" stroke-width="1"/>
<path d="M0.0,146.6 C3.1,148.1 12.8,151.8 18.4,155.8 C24.0,159.8 27.4,164.9 33.6,170.4 C39.8,175.9 49.3,183.6 55.5,188.9 C61.7,194.2 66.0,197.8 70.7,202.3 C75.5,206.8 78.4,210.2 84.0,215.8 C89.6,221.4 98.1,229.8 104.3,236.0 C110.5,242.2 115.1,247.2 121.0,252.8 C126.9,258.4 133.7,264.0 139.6,269.6 C145.5,275.2 151.2,281.4 156.6,286.6 C162.0,291.8 166.4,294.6 172.1,300.9 C177.8,307.1 185.7,318.4 190.8,324.1 C196.0,329.8 198.4,330.2 203.0,335.1 C207.6,340.0 213.6,348.4 218.4,353.5 C223.2,358.6 227.6,362.3 231.7,365.4 C235.8,368.5 239.0,369.9 242.7,372.0 C246.4,374.1 249.8,376.4 253.8,378.2 C257.9,380.0 262.6,381.7 267.0,382.6 C271.4,383.6 275.5,383.3 280.3,383.9 C285.1,384.4 290.9,384.8 295.7,385.9 C300.5,387.0 303.9,388.1 309.0,390.3 C314.1,392.5 321.5,395.7 326.6,399.2 C331.8,402.7 335.8,407.2 339.9,411.3 C343.9,415.4 347.2,419.6 350.9,423.5 C354.6,427.4 357.9,430.8 362.0,434.5 C366.1,438.2 370.5,441.4 375.2,445.5 C379.9,449.6 385.3,455.6 390.0,458.8 C394.7,462.0 398.6,463.3 403.3,464.7 C408.0,466.1 413.2,465.8 418.3,467.1 C423.4,468.4 428.6,471.1 433.7,472.6 C438.8,474.1 444.4,475.6 449.2,475.9 C454.0,476.2 456.9,474.9 462.4,474.4 C467.9,473.9 476.4,473.5 482.3,473.0 C488.2,472.5 492.9,472.5 497.8,471.5 C502.7,470.5 507.5,467.9 511.6,467.2 C515.8,466.5 518.3,467.5 522.7,467.2 C527.1,466.9 533.7,466.6 538.1,465.5 C542.5,464.4 545.5,462.3 549.2,460.6 C552.9,458.9 556.5,457.3 560.2,455.5 C563.9,453.7 567.6,452.0 571.3,450.0 C575.0,448.0 578.6,445.8 582.3,443.4 C586.0,441.0 589.7,438.1 593.4,435.7 C597.1,433.3 600.6,431.0 604.4,429.0 C608.2,427.0 611.9,425.9 616.0,423.5 C620.1,421.1 625.2,417.2 629.3,414.6 C633.3,412.0 636.2,409.9 640.3,408.0 C644.3,406.1 649.5,403.1 653.6,402.9 C657.7,402.7 660.6,405.8 664.6,406.9 C668.6,408.0 673.9,409.1 677.9,409.8 C681.9,410.5 685.6,410.6 688.9,411.3 C692.2,412.0 694.3,412.2 697.6,414.1 C700.9,416.0 705.1,420.3 708.9,422.6 C712.7,424.9 716.5,426.4 720.3,427.7 C724.1,429.0 727.3,429.7 731.7,430.2 C736.1,430.7 741.8,430.4 746.8,430.7 C751.8,431.0 757.6,431.1 762.0,432.0 C766.4,432.9 769.5,435.3 773.3,436.4 C777.1,437.5 780.3,437.9 784.7,438.7 C789.1,439.5 795.5,440.6 799.5,441.2 C803.5,441.8 805.8,441.6 808.9,442.2 C812.0,442.8 815.2,443.9 818.4,445.0 C821.6,446.1 824.4,447.4 827.9,448.8 C831.4,450.2 836.1,452.1 839.2,453.5 C842.4,454.9 843.9,456.2 846.8,457.3 C849.6,458.4 853.8,459.6 856.3,460.2 C858.8,460.8 859.7,460.2 861.9,460.7 C864.1,461.2 866.3,462.0 869.5,463.0 C872.7,464.0 877.1,465.6 880.9,466.8 C884.7,468.0 888.5,468.9 892.2,470.0 C895.9,471.1 898.9,472.6 903.3,473.5 C907.7,474.4 913.9,474.9 918.7,475.3 C923.5,475.8 928.5,476.1 932.0,476.2 C935.5,476.3 937.1,476.8 939.7,476.2 C942.3,475.6 944.3,473.9 947.4,472.4 C950.5,470.8 955.2,468.6 958.5,466.9 C961.8,465.2 964.7,463.5 967.3,462.0 C969.9,460.5 971.7,458.8 973.9,458.1 C976.1,457.4 978.4,457.5 980.6,457.6 C982.8,457.7 984.2,458.1 987.2,458.7 C990.2,459.3 995.1,460.5 998.4,461.0 C1001.7,461.5 1004.0,460.9 1006.8,461.5 C1009.6,462.1 1012.4,463.8 1015.2,464.9 C1018.0,466.0 1020.5,467.0 1023.6,468.3 C1026.7,469.6 1030.3,470.9 1033.7,472.8 C1037.1,474.7 1040.4,477.4 1043.8,479.5 C1047.2,481.6 1051.1,483.9 1053.9,485.1 C1056.7,486.3 1058.3,486.1 1060.6,486.8 C1062.8,487.6 1064.6,488.7 1067.4,489.6 C1070.2,490.5 1074.1,491.4 1077.5,492.2 C1080.9,493.0 1083.8,493.5 1087.6,494.2 C1091.3,494.9 1096.8,495.9 1100.0,496.4 C1103.2,496.9 1102.9,496.4 1106.8,497.3 C1110.7,498.2 1118.5,500.6 1123.6,502.0 C1128.6,503.4 1133.4,505.0 1137.1,505.7 C1140.8,506.4 1142.1,506.1 1145.5,506.0 C1148.9,505.9 1153.1,505.2 1157.3,504.9 C1161.5,504.6 1167.0,504.4 1170.7,504.0 C1174.4,503.6 1176.4,502.8 1179.2,502.7 C1182.0,502.6 1184.1,503.0 1187.6,503.2 C1191.1,503.4 1196.3,503.4 1200.0,504.0 C1203.7,504.6 1206.3,506.4 1210.0,506.9 C1213.7,507.4 1218.2,506.7 1221.9,506.9 C1225.6,507.1 1228.6,508.2 1231.9,507.9 C1235.2,507.6 1237.6,505.7 1241.9,504.9 C1246.2,504.1 1253.9,503.7 1257.9,502.9 C1261.9,502.1 1262.9,500.9 1265.9,499.9 C1268.9,498.9 1271.8,498.1 1275.8,496.9 C1279.8,495.7 1286.0,493.9 1289.8,492.9 C1293.6,491.9 1295.9,492.2 1298.7,490.8 C1301.5,489.4 1303.7,487.5 1306.5,484.5 C1309.3,481.5 1311.2,479.1 1315.5,473.0 C1319.8,466.9 1326.3,456.1 1332.3,447.7 C1338.2,439.3 1346.3,428.3 1351.2,422.5 C1356.1,416.7 1357.9,416.3 1361.8,413.0 C1365.7,409.7 1372.3,404.2 1374.4,402.5" fill="none" stroke="#2962ff" stroke-width="1.5" stroke-linejoin="round"/>
<circle cx="1374.5" cy="681.3" r="16" fill="#ffffff"/><circle cx="1374.5" cy="681.3" r="14.2" fill="#ffffff" stroke="#9c27b0" stroke-width="2.2"/><path d="M1379.5,673.5 L1367.5,683 L1375.2,682.2 L1368.5,689.8 L1381.8,680.2 L1373.8,681 Z" fill="#9c27b0" stroke="#9c27b0" stroke-width="0.8" stroke-linejoin="round"/><circle cx="1384.8" cy="671" r="5.2" fill="#ffffff"/><circle cx="1384.8" cy="671" r="3.6" fill="#f23645"/>
<rect x="0" y="0" width="239" height="77" fill="#ffffff" fill-opacity="0.5"/>
</g>
<g clip-path="url(#rp)">
<rect x="0" y="732" width="1665" height="132" fill="#7e57c2" fill-opacity="0.1"/>
<line x1="0" y1="732.5" x2="1665" y2="732.5" stroke="#787b86" stroke-width="1" stroke-dasharray="4.7,6.2" stroke-dashoffset="7.7"/>
<line x1="0" y1="798.5" x2="1665" y2="798.5" stroke="#787b86" stroke-opacity="0.5" stroke-width="1" stroke-dasharray="4.7,6.2" stroke-dashoffset="7.7"/>
<line x1="0" y1="864.5" x2="1665" y2="864.5" stroke="#787b86" stroke-width="1" stroke-dasharray="4.7,6.2" stroke-dashoffset="7.7"/>
<polygon points="0.0,864.5 0.0,833.0 8.4,788.7 15.2,839.6 22.0,854.7 28.8,849.3 35.6,856.0 42.4,866.9 49.2,845.5 56.0,846.3 62.8,850.5 69.6,851.6 76.4,865.3 83.2,861.7 90.0,865.3 96.8,871.1 103.6,857.5 110.4,860.6 117.2,870.1 124.0,872.0 130.7,876.0 137.5,876.0 144.3,879.0 151.1,879.0 157.9,888.0 164.7,883.0 171.5,892.0 178.3,896.0 185.1,899.5 191.9,891.0 198.7,890.0 205.5,893.0 212.3,896.8 219.1,884.0 225.9,868.6 232.7,870.1 239.5,828.0 246.3,819.6 253.1,796.5 259.9,798.6 266.7,794.4 273.5,774.0 280.3,762.8 287.1,745.4 293.9,798.2 300.7,801.7 307.5,812.3 314.3,813.3 321.1,813.3 327.9,838.0 334.7,863.2 341.5,872.2 348.3,872.2 355.0,880.6 361.8,856.0 368.6,862.3 375.4,861.0 382.2,859.6 389.0,854.7 395.8,853.3 402.6,814.4 409.4,774.0 416.2,788.1 423.0,801.7 429.8,790.2 436.6,786.0 443.4,809.7 450.2,803.4 457.0,772.7 463.8,766.4 470.6,773.8 477.4,777.6 484.2,764.9 491.0,814.4 497.8,762.4 504.6,761.8 511.4,769.8 518.2,784.5 525.0,793.3 531.8,790.8 538.6,783.9 545.4,766.0 552.2,761.4 559.0,774.8 565.8,755.9 572.6,769.1 579.4,753.4 586.1,756.1 592.9,751.3 599.7,755.5 606.5,763.9 613.3,750.2 620.1,761.4 626.9,754.4 633.7,754.4 640.5,751.7 647.3,768.1 654.1,795.4 660.9,825.3 667.7,837.1 674.5,828.5 681.3,818.6 688.1,811.8 694.9,825.9 701.7,846.3 708.5,842.1 715.3,839.0 722.1,829.5 728.9,829.5 735.7,818.1 742.5,801.3 749.3,793.7 756.1,795.9 762.9,803.8 769.7,829.5 776.5,836.4 783.3,801.3 790.1,806.4 796.9,816.5 803.7,805.5 810.4,793.7 817.2,807.0 824.0,820.2 830.8,827.0 837.6,825.9 844.4,835.0 851.2,844.2 858.0,817.5 864.8,795.9 871.6,812.3 878.4,822.4 885.2,816.5 892.0,822.4 898.8,810.6 905.6,802.2 912.4,795.0 919.2,795.9 926.0,804.9 932.8,795.9 939.6,793.7 946.4,751.7 953.2,745.4 960.0,741.8 966.8,737.6 973.6,738.6 980.4,787.0 987.2,814.8 994.0,814.8 1000.8,809.7 1007.6,803.8 1014.4,824.9 1021.2,828.7 1028.0,831.2 1034.8,839.6 1041.5,850.1 1048.3,855.4 1055.1,855.4 1061.9,814.8 1068.7,827.0 1075.5,809.7 1082.3,809.7 1089.1,802.2 1095.9,809.1 1102.7,806.4 1109.5,805.5 1116.3,816.9 1123.1,822.4 1129.9,816.0 1136.7,825.9 1143.5,790.2 1150.3,785.3 1157.1,770.6 1163.9,779.0 1170.7,796.5 1177.5,773.3 1184.3,785.3 1191.1,803.8 1197.9,790.2 1204.7,800.7 1211.5,801.7 1218.3,796.5 1225.1,813.3 1231.9,813.9 1238.7,790.2 1245.5,760.7 1252.3,773.4 1259.1,786.0 1265.8,756.5 1272.6,782.4 1279.4,770.2 1286.2,779.0 1293.0,773.4 1299.8,778.2 1306.6,730.7 1313.4,713.4 1320.2,716.6 1327.0,722.2 1333.8,719.7 1340.6,714.5 1347.4,725.0 1354.2,734.9 1361.0,754.4 1367.8,758.0 1374.6,764.9 1374.6,864.5" fill="url(#pk)" clip-path="url(#below30)"/>
<polygon points="0.0,732.0 0.0,833.0 8.4,788.7 15.2,839.6 22.0,854.7 28.8,849.3 35.6,856.0 42.4,866.9 49.2,845.5 56.0,846.3 62.8,850.5 69.6,851.6 76.4,865.3 83.2,861.7 90.0,865.3 96.8,871.1 103.6,857.5 110.4,860.6 117.2,870.1 124.0,872.0 130.7,876.0 137.5,876.0 144.3,879.0 151.1,879.0 157.9,888.0 164.7,883.0 171.5,892.0 178.3,896.0 185.1,899.5 191.9,891.0 198.7,890.0 205.5,893.0 212.3,896.8 219.1,884.0 225.9,868.6 232.7,870.1 239.5,828.0 246.3,819.6 253.1,796.5 259.9,798.6 266.7,794.4 273.5,774.0 280.3,762.8 287.1,745.4 293.9,798.2 300.7,801.7 307.5,812.3 314.3,813.3 321.1,813.3 327.9,838.0 334.7,863.2 341.5,872.2 348.3,872.2 355.0,880.6 361.8,856.0 368.6,862.3 375.4,861.0 382.2,859.6 389.0,854.7 395.8,853.3 402.6,814.4 409.4,774.0 416.2,788.1 423.0,801.7 429.8,790.2 436.6,786.0 443.4,809.7 450.2,803.4 457.0,772.7 463.8,766.4 470.6,773.8 477.4,777.6 484.2,764.9 491.0,814.4 497.8,762.4 504.6,761.8 511.4,769.8 518.2,784.5 525.0,793.3 531.8,790.8 538.6,783.9 545.4,766.0 552.2,761.4 559.0,774.8 565.8,755.9 572.6,769.1 579.4,753.4 586.1,756.1 592.9,751.3 599.7,755.5 606.5,763.9 613.3,750.2 620.1,761.4 626.9,754.4 633.7,754.4 640.5,751.7 647.3,768.1 654.1,795.4 660.9,825.3 667.7,837.1 674.5,828.5 681.3,818.6 688.1,811.8 694.9,825.9 701.7,846.3 708.5,842.1 715.3,839.0 722.1,829.5 728.9,829.5 735.7,818.1 742.5,801.3 749.3,793.7 756.1,795.9 762.9,803.8 769.7,829.5 776.5,836.4 783.3,801.3 790.1,806.4 796.9,816.5 803.7,805.5 810.4,793.7 817.2,807.0 824.0,820.2 830.8,827.0 837.6,825.9 844.4,835.0 851.2,844.2 858.0,817.5 864.8,795.9 871.6,812.3 878.4,822.4 885.2,816.5 892.0,822.4 898.8,810.6 905.6,802.2 912.4,795.0 919.2,795.9 926.0,804.9 932.8,795.9 939.6,793.7 946.4,751.7 953.2,745.4 960.0,741.8 966.8,737.6 973.6,738.6 980.4,787.0 987.2,814.8 994.0,814.8 1000.8,809.7 1007.6,803.8 1014.4,824.9 1021.2,828.7 1028.0,831.2 1034.8,839.6 1041.5,850.1 1048.3,855.4 1055.1,855.4 1061.9,814.8 1068.7,827.0 1075.5,809.7 1082.3,809.7 1089.1,802.2 1095.9,809.1 1102.7,806.4 1109.5,805.5 1116.3,816.9 1123.1,822.4 1129.9,816.0 1136.7,825.9 1143.5,790.2 1150.3,785.3 1157.1,770.6 1163.9,779.0 1170.7,796.5 1177.5,773.3 1184.3,785.3 1191.1,803.8 1197.9,790.2 1204.7,800.7 1211.5,801.7 1218.3,796.5 1225.1,813.3 1231.9,813.9 1238.7,790.2 1245.5,760.7 1252.3,773.4 1259.1,786.0 1265.8,756.5 1272.6,782.4 1279.4,770.2 1286.2,779.0 1293.0,773.4 1299.8,778.2 1306.6,730.7 1313.4,713.4 1320.2,716.6 1327.0,722.2 1333.8,719.7 1340.6,714.5 1347.4,725.0 1354.2,734.9 1361.0,754.4 1367.8,758.0 1374.6,764.9 1374.6,732.0" fill="url(#gk)" clip-path="url(#above70)"/>
<path d="M0.0,836.4 C1.4,835.6 6.1,832.7 8.4,831.8 C10.7,830.9 10.5,830.7 13.7,830.8 C16.8,830.9 22.6,831.4 27.3,832.2 C32.0,833.0 38.3,834.9 42.0,835.4 C45.7,835.9 45.9,834.8 49.4,835.4 C52.9,836.0 59.4,838.2 63.1,839.2 C66.8,840.2 68.7,840.7 71.5,841.7 C74.3,842.8 77.1,844.5 79.9,845.5 C82.7,846.5 85.5,847.0 88.3,848.0 C91.1,849.0 94.2,849.9 96.7,851.2 C99.2,852.5 100.2,854.8 103.0,856.0 C105.8,857.2 109.7,857.7 113.6,858.5 C117.5,859.3 122.4,860.5 126.2,861.0 C130.1,861.5 133.2,861.0 136.7,861.7 C140.2,862.4 143.3,864.1 147.2,865.3 C151.0,866.5 156.3,868.0 159.8,869.0 C163.3,870.0 164.0,869.9 168.2,871.1 C172.4,872.3 179.7,874.7 185.0,876.0 C190.3,877.3 195.0,878.3 200.0,879.0 C205.0,879.7 210.0,880.0 215.0,880.0 C220.0,880.0 224.1,880.1 230.0,879.0 C235.9,877.9 244.4,876.4 250.4,873.2 C256.4,870.0 261.4,864.3 266.1,859.6 C270.8,854.9 274.9,849.6 278.8,844.9 C282.7,840.2 285.8,835.8 289.3,831.2 C292.8,826.6 297.1,820.7 300.0,817.5 C302.9,814.3 303.4,814.3 306.8,811.8 C310.2,809.2 317.0,804.1 320.5,802.2 C324.0,800.3 324.4,799.6 327.9,800.3 C331.4,801.0 337.3,803.9 341.5,806.4 C345.7,808.9 348.7,811.9 353.1,815.4 C357.5,818.9 362.9,823.0 367.8,827.6 C372.7,832.2 378.3,839.0 382.5,842.7 C386.7,846.5 389.8,848.6 393.0,850.1 C396.2,851.6 398.7,851.9 401.5,851.6 C404.3,851.4 406.4,849.9 409.9,848.6 C413.4,847.3 417.9,846.5 422.5,843.8 C427.1,841.1 432.6,835.7 437.2,832.2 C441.8,828.7 445.9,825.9 449.8,822.8 C453.7,819.6 456.1,817.0 460.3,813.3 C464.5,809.6 470.4,804.7 475.1,800.7 C479.8,796.7 484.8,791.7 488.4,789.1 C492.0,786.5 493.6,785.9 496.8,784.9 C500.0,783.9 503.8,783.8 507.3,783.2 C510.8,782.6 513.9,781.3 517.9,781.1 C521.9,780.9 527.0,782.8 531.5,782.2 C536.0,781.6 540.6,778.5 545.2,777.6 C549.8,776.7 554.4,777.4 558.9,776.9 C563.4,776.4 568.0,775.9 572.5,774.8 C577.0,773.7 580.7,771.2 586.2,770.2 C591.8,769.2 600.4,769.5 605.8,768.5 C611.2,767.5 614.5,765.7 618.8,764.3 C623.1,762.9 627.4,761.1 631.4,760.1 C635.4,759.1 639.3,758.0 643.0,758.0 C646.7,758.0 649.8,758.2 653.5,760.1 C657.2,762.0 662.4,767.1 665.1,769.1 C667.9,771.1 667.8,770.3 670.0,771.9 C672.2,773.5 675.2,776.5 678.4,778.6 C681.5,780.7 685.0,781.8 688.9,784.5 C692.8,787.2 698.3,792.1 701.5,795.0 C704.7,797.9 704.7,798.9 707.9,801.7 C711.1,804.5 716.3,808.6 720.5,811.8 C724.7,815.0 729.4,818.6 733.1,820.7 C736.8,822.8 739.8,823.9 742.6,824.5 C745.4,825.1 746.4,825.2 749.9,824.5 C753.4,823.8 759.0,820.7 763.6,820.2 C768.2,819.7 772.9,821.4 777.3,821.3 C781.7,821.2 785.7,820.7 789.9,819.6 C794.1,818.5 798.6,816.4 802.5,814.8 C806.4,813.2 809.5,811.2 813.0,810.2 C816.5,809.2 820.4,809.1 823.5,809.1 C826.6,809.1 828.4,809.2 831.9,810.2 C835.4,811.2 840.6,813.4 844.6,814.8 C848.6,816.2 851.9,818.6 856.1,818.6 C860.3,818.6 865.9,815.1 870.0,814.8 C874.1,814.4 877.4,816.0 881.0,816.5 C884.6,817.0 887.5,817.1 891.5,817.5 C895.5,817.9 900.6,819.0 905.2,818.6 C909.8,818.2 914.5,816.5 918.9,815.4 C923.3,814.3 928.2,812.9 931.5,811.8 C934.8,810.6 935.8,810.7 938.9,808.5 C942.0,806.3 947.1,801.1 950.4,798.6 C953.7,796.1 956.2,795.4 958.8,793.7 C961.4,792.1 963.7,790.6 966.2,788.7 C968.7,786.8 970.3,783.9 973.6,782.4 C976.9,780.9 982.4,780.1 986.2,779.7 C990.1,779.4 993.2,779.9 996.7,780.3 C1000.2,780.6 1004.1,781.2 1007.2,781.8 C1010.4,782.4 1012.8,783.1 1015.6,783.9 C1018.4,784.7 1020.8,785.4 1024.0,786.6 C1027.2,787.8 1031.4,789.0 1034.6,791.2 C1037.8,793.5 1039.8,796.4 1043.0,800.1 C1046.2,803.8 1050.2,809.9 1053.5,813.3 C1056.8,816.6 1060.2,818.1 1062.6,820.2 C1065.0,822.3 1065.8,824.7 1067.9,825.9 C1070.0,827.1 1071.9,827.4 1075.2,827.4 C1078.5,827.4 1083.3,826.1 1087.9,825.9 C1092.5,825.6 1097.7,826.2 1102.6,825.9 C1107.5,825.5 1112.8,824.5 1117.3,823.8 C1121.8,823.1 1126.4,822.6 1129.9,821.7 C1133.4,820.8 1135.2,820.5 1138.3,818.6 C1141.4,816.7 1144.6,812.7 1148.8,810.2 C1153.0,807.7 1159.7,804.9 1163.6,803.4 C1167.5,801.9 1168.8,802.1 1172.0,801.3 C1175.2,800.5 1178.3,799.3 1182.5,798.6 C1186.7,797.9 1192.5,797.6 1197.2,797.1 C1201.9,796.6 1206.9,796.5 1210.5,795.9 C1214.1,795.3 1215.4,794.2 1218.9,793.7 C1222.4,793.2 1227.1,793.4 1231.5,792.9 C1235.9,792.4 1240.8,791.0 1245.2,790.8 C1249.6,790.6 1254.3,791.9 1257.8,791.6 C1261.3,791.3 1263.7,789.5 1266.2,789.1 C1268.7,788.8 1270.3,789.6 1272.6,789.5 C1274.9,789.4 1277.8,789.1 1279.9,788.7 C1282.0,788.3 1283.1,787.5 1285.2,787.0 C1287.3,786.5 1290.2,786.5 1292.5,786.0 C1294.8,785.5 1296.7,784.9 1298.8,783.9 C1300.9,782.9 1302.7,781.5 1305.2,779.7 C1307.7,778.0 1311.0,775.9 1313.6,773.4 C1316.2,770.9 1318.8,767.1 1320.9,764.9 C1323.0,762.7 1324.1,761.9 1326.2,760.1 C1328.3,758.4 1331.2,755.8 1333.5,754.4 C1335.8,753.0 1337.6,752.8 1339.9,751.7 C1342.2,750.7 1344.8,749.3 1347.2,748.1 C1349.7,746.9 1352.3,745.3 1354.6,744.5 C1356.9,743.7 1358.6,743.8 1360.9,743.3 C1363.2,742.8 1366.0,742.0 1368.2,741.8 C1370.4,741.5 1373.1,741.8 1374.1,741.8" fill="none" stroke="#d4f533" stroke-width="1.6" stroke-linejoin="round"/>
<polyline points="0.0,833.0 8.4,788.7 15.2,839.6 22.0,854.7 28.8,849.3 35.6,856.0 42.4,866.9 49.2,845.5 56.0,846.3 62.8,850.5 69.6,851.6 76.4,865.3 83.2,861.7 90.0,865.3 96.8,871.1 103.6,857.5 110.4,860.6 117.2,870.1 124.0,872.0 130.7,876.0 137.5,876.0 144.3,879.0 151.1,879.0 157.9,888.0 164.7,883.0 171.5,892.0 178.3,896.0 185.1,899.5 191.9,891.0 198.7,890.0 205.5,893.0 212.3,896.8 219.1,884.0 225.9,868.6 232.7,870.1 239.5,828.0 246.3,819.6 253.1,796.5 259.9,798.6 266.7,794.4 273.5,774.0 280.3,762.8 287.1,745.4 293.9,798.2 300.7,801.7 307.5,812.3 314.3,813.3 321.1,813.3 327.9,838.0 334.7,863.2 341.5,872.2 348.3,872.2 355.0,880.6 361.8,856.0 368.6,862.3 375.4,861.0 382.2,859.6 389.0,854.7 395.8,853.3 402.6,814.4 409.4,774.0 416.2,788.1 423.0,801.7 429.8,790.2 436.6,786.0 443.4,809.7 450.2,803.4 457.0,772.7 463.8,766.4 470.6,773.8 477.4,777.6 484.2,764.9 491.0,814.4 497.8,762.4 504.6,761.8 511.4,769.8 518.2,784.5 525.0,793.3 531.8,790.8 538.6,783.9 545.4,766.0 552.2,761.4 559.0,774.8 565.8,755.9 572.6,769.1 579.4,753.4 586.1,756.1 592.9,751.3 599.7,755.5 606.5,763.9 613.3,750.2 620.1,761.4 626.9,754.4 633.7,754.4 640.5,751.7 647.3,768.1 654.1,795.4 660.9,825.3 667.7,837.1 674.5,828.5 681.3,818.6 688.1,811.8 694.9,825.9 701.7,846.3 708.5,842.1 715.3,839.0 722.1,829.5 728.9,829.5 735.7,818.1 742.5,801.3 749.3,793.7 756.1,795.9 762.9,803.8 769.7,829.5 776.5,836.4 783.3,801.3 790.1,806.4 796.9,816.5 803.7,805.5 810.4,793.7 817.2,807.0 824.0,820.2 830.8,827.0 837.6,825.9 844.4,835.0 851.2,844.2 858.0,817.5 864.8,795.9 871.6,812.3 878.4,822.4 885.2,816.5 892.0,822.4 898.8,810.6 905.6,802.2 912.4,795.0 919.2,795.9 926.0,804.9 932.8,795.9 939.6,793.7 946.4,751.7 953.2,745.4 960.0,741.8 966.8,737.6 973.6,738.6 980.4,787.0 987.2,814.8 994.0,814.8 1000.8,809.7 1007.6,803.8 1014.4,824.9 1021.2,828.7 1028.0,831.2 1034.8,839.6 1041.5,850.1 1048.3,855.4 1055.1,855.4 1061.9,814.8 1068.7,827.0 1075.5,809.7 1082.3,809.7 1089.1,802.2 1095.9,809.1 1102.7,806.4 1109.5,805.5 1116.3,816.9 1123.1,822.4 1129.9,816.0 1136.7,825.9 1143.5,790.2 1150.3,785.3 1157.1,770.6 1163.9,779.0 1170.7,796.5 1177.5,773.3 1184.3,785.3 1191.1,803.8 1197.9,790.2 1204.7,800.7 1211.5,801.7 1218.3,796.5 1225.1,813.3 1231.9,813.9 1238.7,790.2 1245.5,760.7 1252.3,773.4 1259.1,786.0 1265.8,756.5 1272.6,782.4 1279.4,770.2 1286.2,779.0 1293.0,773.4 1299.8,778.2 1306.6,730.7 1313.4,713.4 1320.2,716.6 1327.0,722.2 1333.8,719.7 1340.6,714.5 1347.4,725.0 1354.2,734.9 1361.0,754.4 1367.8,758.0 1374.6,764.9" fill="none" stroke="#9b51c9" stroke-width="1.6" stroke-linejoin="round"/>
<rect x="0" y="712" width="360" height="33" fill="#ffffff" fill-opacity="0.6"/>
</g>
<rect x="0" y="701" width="1665" height="2" fill="#e0e3eb"/>
<rect x="1665" y="0" width="81" height="951" fill="#ffffff"/>
<rect x="0" y="912" width="1665" height="39" fill="#ffffff"/>
<rect x="1665" y="0" width="1" height="951" fill="#50535e"/>
<rect x="0" y="912" width="1746" height="1" fill="#50535e"/>
<text x="1677.8" y="144.2" font-size="17" fill="#4a4a4a" stroke="#4a4a4a" stroke-width="0.35">1.24500</text>
<text x="1677.8" y="205.3" font-size="17" fill="#4a4a4a" stroke="#4a4a4a" stroke-width="0.35">1.24000</text>
<text x="1677.8" y="327.4" font-size="17" fill="#4a4a4a" stroke="#4a4a4a" stroke-width="0.35">1.23000</text>
<text x="1677.8" y="449.4" font-size="17" fill="#4a4a4a" stroke="#4a4a4a" stroke-width="0.35">1.22000</text>
<text x="1677.8" y="510.4" font-size="17" fill="#4a4a4a" stroke="#4a4a4a" stroke-width="0.35">1.21500</text>
<text x="1677.8" y="632.5" font-size="17" fill="#4a4a4a" stroke="#4a4a4a" stroke-width="0.35">1.20500</text>
<text x="1677.8" y="693.5" font-size="17" fill="#4a4a4a" stroke="#4a4a4a" stroke-width="0.35">1.20000</text>
<text x="1677.8" y="837.2" font-size="17" fill="#4a4a4a" stroke="#4a4a4a" stroke-width="0.35">40.00</text>
<text x="1677.8" y="903.4" font-size="17" fill="#4a4a4a" stroke="#4a4a4a" stroke-width="0.35">20.00</text>
<rect x="1665" y="62" width="81" height="27" fill="#2962ff"/>
<text x="1678.0" y="81.7" font-size="17" fill="#ffffff" font-weight="bold">1.25011</text>
<rect x="1665" y="159.6" width="81" height="26.80000000000001" fill="#2962ff"/>
<text x="1678.0" y="179.2" font-size="17" fill="#ffffff" font-weight="bold">1.24220</text>
<rect x="1665" y="248" width="81" height="24.80000000000001" fill="#2962ff"/>
<text x="1678.0" y="266.6" font-size="17" fill="#ffffff" font-weight="bold">1.23407</text>
<rect x="1665" y="272.8" width="81" height="48" fill="#d6533f"/>
<text x="1678.0" y="292.5" font-size="17" fill="#ffffff" font-weight="bold">1.23283</text>
<text x="1678.0" y="313.5" font-size="17" fill="#ffffff" stroke="#ffffff" stroke-width="0.35" fill-opacity="0.75">52:50</text>
<rect x="1665" y="361.3" width="81" height="27.099999999999966" fill="#2962ff"/>
<text x="1678.0" y="381.1" font-size="17" fill="#ffffff" font-weight="bold">1.22561</text>
<rect x="1665" y="391.5" width="81" height="25.5" fill="#2962ff"/>
<text x="1678.0" y="410.4" font-size="17" fill="#ffffff" font-weight="bold">1.22318</text>
<rect x="1665" y="417" width="81" height="25.80000000000001" fill="#2962ff"/>
<text x="1678.0" y="436.1" font-size="17" fill="#ffffff" font-weight="bold">1.22170</text>
<rect x="1665" y="557.5" width="81" height="26.200000000000045" fill="#2962ff"/>
<text x="1678.0" y="576.8" font-size="17" fill="#ffffff" font-weight="bold">1.20959</text>
<rect x="1665" y="629.2" width="81" height="26.199999999999932" fill="#2962ff"/>
<text x="1678.0" y="648.5" font-size="17" fill="#ffffff" font-weight="bold">1.20362</text>
<path d="M1665,726 H1727 Q1730,726 1730,729 V753 H1665 Z" fill="#d9fd38"/>
<path d="M1665,753 H1730 V776 Q1730,779 1727,779 H1665 Z" fill="#9b55c3"/>
<text x="1677.7" y="745.8" font-size="17.5" fill="#131722" stroke="#131722" stroke-width="0.35">66.88</text>
<text x="1677.7" y="772.5" font-size="17.5" fill="#ffffff" font-weight="bold">59.92</text>
<rect x="1671.5" y="-4" width="84" height="39" rx="5" fill="#ffffff" stroke="#e0e3eb" stroke-width="1"/>
<text x="1677.8" y="22.6" font-size="17" fill="#131722" stroke="#131722" stroke-width="0.35">USD</text>
<path d="M1732.5,15 L1736,18.5 L1739.5,15" fill="none" stroke="#131722" stroke-width="1.5"/>
<path d="M1701,933 L1705.5,925 L1714.5,925 L1719,933 L1714.5,941 L1705.5,941 Z" fill="none" stroke="#131722" stroke-width="1.5" stroke-linejoin="round"/><circle cx="1710" cy="933" r="2.8" fill="none" stroke="#131722" stroke-width="1.5"/>
<text x="110.2" y="940.0" font-size="17.5" fill="#4a4a4a" text-anchor="middle" stroke="#4a4a4a" stroke-width="0.35">25</text>
<text x="307.0" y="940.0" font-size="17.5" fill="#4a4a4a" text-anchor="middle" font-weight="bold">Oct</text>
<text x="518.0" y="940.0" font-size="17.5" fill="#4a4a4a" text-anchor="middle" stroke="#4a4a4a" stroke-width="0.35">9</text>
<text x="722.0" y="940.0" font-size="17.5" fill="#4a4a4a" text-anchor="middle" stroke="#4a4a4a" stroke-width="0.35">16</text>
<text x="925.5" y="940.0" font-size="17.5" fill="#4a4a4a" text-anchor="middle" stroke="#4a4a4a" stroke-width="0.35">23</text>
<text x="1047.5" y="940.0" font-size="17.5" fill="#4a4a4a" text-anchor="middle" stroke="#4a4a4a" stroke-width="0.35">26</text>
<text x="1211.0" y="940.0" font-size="17.5" fill="#4a4a4a" text-anchor="middle" font-weight="bold">Nov</text>
<text x="1332.8" y="940.0" font-size="17.5" fill="#4a4a4a" text-anchor="middle" stroke="#4a4a4a" stroke-width="0.35">6</text>
<text x="1536.5" y="940.0" font-size="17.5" fill="#4a4a4a" text-anchor="middle" stroke="#4a4a4a" stroke-width="0.35">13</text>
<clipPath id="usc"><circle cx="24.3" cy="10.4" r="8.6"/></clipPath><g clip-path="url(#usc)"><rect x="15" y="1" width="19" height="19" fill="#ffffff"/><rect x="15" y="1" width="19" height="4.6" fill="#ef5350"/><rect x="15" y="9" width="19" height="3.8" fill="#ef5350"/><rect x="15" y="16.1" width="19" height="4" fill="#ef5350"/><rect x="15" y="1" width="10.9" height="12.1" fill="#1e88e5"/><circle cx="20.5" cy="4.4" r="0.8" fill="#fff"/><circle cx="23.6" cy="4.4" r="0.8" fill="#fff"/><circle cx="20.5" cy="7.5" r="0.8" fill="#fff"/><circle cx="23.6" cy="7.5" r="0.8" fill="#fff"/><circle cx="23.6" cy="10.5" r="0.8" fill="#fff"/></g><circle cx="15" cy="19.9" r="10.2" fill="#ffffff"/><clipPath id="ukc"><circle cx="15" cy="19.9" r="9"/></clipPath><g clip-path="url(#ukc)"><rect x="5" y="10" width="20" height="20" fill="#0d47a1"/><path d="M5,10 L25,30 M25,10 L5,30" stroke="#ffffff" stroke-width="3.2"/><path d="M5.5,11 L11.5,17 M24.5,11 L18.5,17 M5.5,29 L11.5,23 M24.5,29 L18.5,23" stroke="#ef5350" stroke-width="1.3"/><rect x="5" y="17" width="20" height="5.8" fill="#ffffff"/><rect x="12.1" y="10" width="5.8" height="20" fill="#ffffff"/><rect x="5" y="18.6" width="20" height="2.6" fill="#e53935"/><rect x="13.7" y="10" width="2.6" height="20" fill="#e53935"/></g>
<text x="38.5" y="23.7" font-size="23.2" fill="#4a4a4a" textLength="281.65" lengthAdjust="spacingAndGlyphs" stroke="#4a4a4a" stroke-width="0.35">British Pound / U.S. Dollar</text>
<circle cx="331.2" cy="16.5" r="1.7" fill="#131722"/><circle cx="374.7" cy="16.5" r="1.7" fill="#131722"/>
<text x="340.3" y="23.7" font-size="23.2" fill="#4a4a4a" textLength="24.76" lengthAdjust="spacingAndGlyphs" stroke="#4a4a4a" stroke-width="0.35">4h</text>
<text x="384.3" y="23.7" font-size="23.2" fill="#4a4a4a" textLength="58.05" lengthAdjust="spacingAndGlyphs" stroke="#4a4a4a" stroke-width="0.35">FXCM</text>
<path d="M477,2 H494 V28.6 H477 A13.3,13.3 0 0 1 477,2 Z" fill="#dff2ef"/><path d="M494,2 H511 A13.3,13.3 0 0 1 511,28.6 H494 Z" fill="#f0a6c2"/><circle cx="479.9" cy="14.9" r="6" fill="#089981"/>
<text x="500.7" y="20.5" font-size="22" fill="#e91e63" textLength="12.68" lengthAdjust="spacingAndGlyphs" stroke="#e91e63" stroke-width="0.35">≈</text>
<text x="548.5" y="21.3" font-size="18.5" fill="#4a4a4a" textLength="11.92" lengthAdjust="spacingAndGlyphs" stroke="#4a4a4a" stroke-width="0.35">O</text>
<text x="563.7" y="21.3" font-size="18.5" fill="#6b1d1d" textLength="67.09" lengthAdjust="spacingAndGlyphs" stroke="#6b1d1d" stroke-width="0.35">1.23384</text>
<text x="639.8" y="21.3" font-size="18.5" fill="#4a4a4a" textLength="13.12" lengthAdjust="spacingAndGlyphs" stroke="#4a4a4a" stroke-width="0.35">H</text>
<text x="655.7" y="21.3" font-size="18.5" fill="#6b1d1d" textLength="66.28" lengthAdjust="spacingAndGlyphs" stroke="#6b1d1d" stroke-width="0.35">1.23413</text>
<text x="732.1" y="21.3" font-size="18.5" fill="#4a4a4a" textLength="9.15" lengthAdjust="spacingAndGlyphs" stroke="#4a4a4a" stroke-width="0.35">L</text>
<text x="741.6" y="21.3" font-size="18.5" fill="#6b1d1d" textLength="69.13" lengthAdjust="spacingAndGlyphs" stroke="#6b1d1d" stroke-width="0.35">1.23279</text>
<text x="820.8" y="21.3" font-size="18.5" fill="#4a4a4a" textLength="10.79" lengthAdjust="spacingAndGlyphs" stroke="#4a4a4a" stroke-width="0.35">C</text>
<text x="834.3" y="21.3" font-size="18.5" fill="#6b1d1d" textLength="66.99" lengthAdjust="spacingAndGlyphs" stroke="#6b1d1d" stroke-width="0.35">1.23283</text>
<text x="912.3" y="21.3" font-size="18.5" fill="#6b1d1d" textLength="75.58" lengthAdjust="spacingAndGlyphs" stroke="#6b1d1d" stroke-width="0.35">−0.00101</text>
<text x="995.4" y="21.3" font-size="18.5" fill="#6b1d1d" textLength="73.33" lengthAdjust="spacingAndGlyphs" stroke="#6b1d1d" stroke-width="0.35">(−0.08%)</text>
<rect x="4.8" y="39.5" width="89.5" height="35" rx="5" fill="#ffffff" stroke="#f23645" stroke-width="1"/>
<rect x="142.8" y="39.5" width="89.5" height="35" rx="5" fill="#ffffff" stroke="#2962ff" stroke-width="1"/>
<text x="16.4" y="64.4" font-size="19.6" fill="#f23645" textLength="58" lengthAdjust="spacingAndGlyphs" stroke="#f23645" stroke-width="0.35">1.2328</text>
<text x="75.3" y="60.8" font-size="15" fill="#f23645" textLength="7.5" lengthAdjust="spacingAndGlyphs" stroke="#f23645" stroke-width="0.35">3</text>
<text x="154.6" y="64.4" font-size="19.6" fill="#2962ff" textLength="58" lengthAdjust="spacingAndGlyphs" stroke="#2962ff" stroke-width="0.35">1.2328</text>
<text x="213.6" y="60.8" font-size="15" fill="#2962ff" textLength="7.8" lengthAdjust="spacingAndGlyphs" stroke="#2962ff" stroke-width="0.35">8</text>
<text x="106.6" y="63.0" font-size="16.2" fill="#131722" textLength="24" lengthAdjust="spacingAndGlyphs" stroke="#131722" stroke-width="0.35">0.5</text>
<text x="6.0" y="105.8" font-size="18.6" fill="#4a4a4a" textLength="195" lengthAdjust="spacingAndGlyphs" stroke="#4a4a4a" stroke-width="0.35">EMA 50 close 0 EMA 50</text>
<text x="213.5" y="105.8" font-size="18.6" fill="#2962ff" textLength="67.5" lengthAdjust="spacingAndGlyphs" stroke="#2962ff" stroke-width="0.35">1.22318</text>
<rect x="6.9" y="120.8" width="41.3" height="30.4" rx="4" fill="#ffffff" stroke="#dadde6" stroke-width="1"/>
<path d="M21.5,139 L27.4,133.3 L33.3,139" fill="none" stroke="#131722" stroke-width="2"/>
<text x="6.0" y="733.6" font-size="17.8" fill="#4a4a4a" textLength="184" lengthAdjust="spacingAndGlyphs" stroke="#4a4a4a" stroke-width="0.35">RSI 14 close SMA 14 2</text>
<text x="203.0" y="733.6" font-size="17.8" fill="#9b51c9" textLength="47" lengthAdjust="spacingAndGlyphs" stroke="#9b51c9" stroke-width="0.35">59.92</text>
<text x="260.0" y="733.6" font-size="17.8" fill="#d4f533" textLength="47.5" lengthAdjust="spacingAndGlyphs" stroke="#d4f533" stroke-width="0.35">66.88</text>
<text x="318.5" y="733.6" font-size="17.8" fill="#3a3d45" stroke="none">Ø</text>
<text x="341.0" y="733.6" font-size="17.8" fill="#3a3d45" stroke="none">Ø</text>
<rect x="6" y="867.5" width="244" height="21" fill="#ffffff" fill-opacity="0.85"/>
<g fill="#131722"><path d="M10,868.9 H27.9 V890.8 H18.6 V876.9 H10 Z"/><circle cx="37.5" cy="872.8" r="4.4"/><path d="M43,868.9 H54.4 L46.1,890.8 H35.8 Z"/></g>
<text x="65.5" y="890.8" font-size="30" fill="#131722" font-weight="bold" textLength="181" lengthAdjust="spacingAndGlyphs" stroke="#ffffff" stroke-width="5" paint-order="stroke" stroke-linejoin="round">TradingView</text>
</svg></body></html>
